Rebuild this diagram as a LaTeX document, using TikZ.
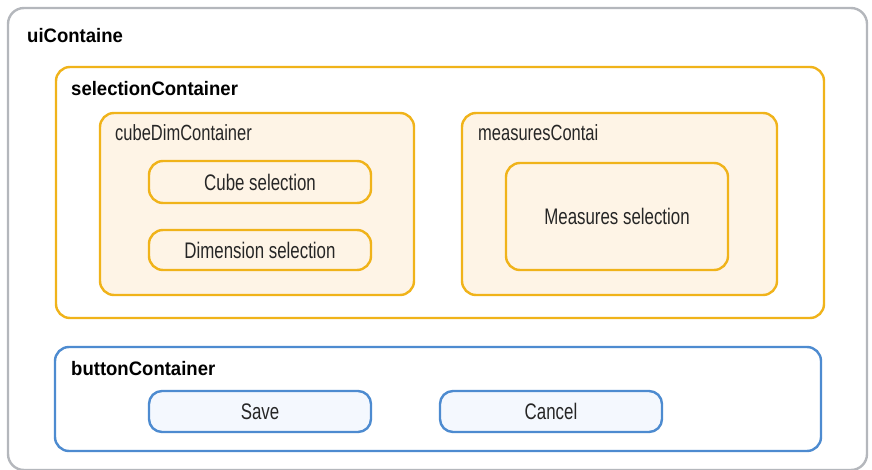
\documentclass[tikz,border=0pt]{standalone}
\usepackage{fontspec}
\setmainfont{Liberation Sans}[FakeStretch=0.75]
\newfontfamily\labelfont{Liberation Sans}[BoldFont={Liberation Sans Bold}, FakeStretch=0.95]
\definecolor{outergray}{HTML}{B4B7BC}
\definecolor{selyellow}{HTML}{F0B31A}
\definecolor{cream}{HTML}{FEF4E6}
\definecolor{btnblue}{HTML}{4D8BD0}
\definecolor{btnfill}{HTML}{F4F8FE}
\tikzset{
  box/.style={rectangle, draw, line width=2.4pt, rounded corners=#1, inner sep=0pt},
  box/.default=13pt,
  title/.style={anchor=base west, inner sep=0pt, font=\labelfont\bfseries\fontsize{19.5}{22}\selectfont},
  sublabel/.style={anchor=base west, inner sep=0pt, font=\fontsize{22}{24}\selectfont, text=black!85},
  item/.style={font=\fontsize{22.5}{24}\selectfont, text=black!85}
}
\begin{document}
\begin{tikzpicture}[x=1pt,y=-1pt]
  \useasboundingbox (0,0) rectangle (872,470);
  % outer frame
  \node[box=16pt, draw=outergray, fill=white, minimum width=859pt, minimum height=462pt] (ui) at (437.5,239) {};
  \node[title] (uiT) at (27,42.7) {uiContaine};
  % selection container
  \node[box=14pt, draw=selyellow, fill=white, minimum width=768pt, minimum height=251pt] (sel) at (440,192.5) {};
  \node[title] (selT) at (71,96) {selectionContainer};
  % cube / dimension group
  \node[box=14pt, draw=selyellow, fill=cream, minimum width=314pt, minimum height=182pt] (cube) at (257,204) {};
  \node[sublabel] (cubeT) at (115,141) {cubeDimContainer};
  \node[box=14pt, draw=selyellow, fill=cream, minimum width=222pt, minimum height=42pt, item] (cs) at (260,182) {Cube selection};
  \node[box=14pt, draw=selyellow, fill=cream, minimum width=222pt, minimum height=40pt, item] (ds) at (260,250) {Dimension selection};
  % measures group
  \node[box=14pt, draw=selyellow, fill=cream, minimum width=315pt, minimum height=182pt] (meas) at (619.5,204) {};
  \node[sublabel] (measT) at (478,140.7) {measuresContai};
  \node[box=14pt, draw=selyellow, fill=cream, minimum width=222pt, minimum height=107pt, item] (ms) at (617,216.5) {Measures selection};
  % buttons
  \node[box=14pt, draw=btnblue, fill=white, minimum width=766pt, minimum height=104pt] (btn) at (438,399) {};
  \node[title] (btnT) at (71,375.7) {buttonContainer};
  \node[box=13pt, draw=btnblue, fill=btnfill, minimum width=222pt, minimum height=41pt, item] (save) at (260,411.5) {Save};
  \node[box=13pt, draw=btnblue, fill=btnfill, minimum width=222pt, minimum height=41pt, item] (cancel) at (551,411.5) {Cancel};
\end{tikzpicture}
\end{document}
